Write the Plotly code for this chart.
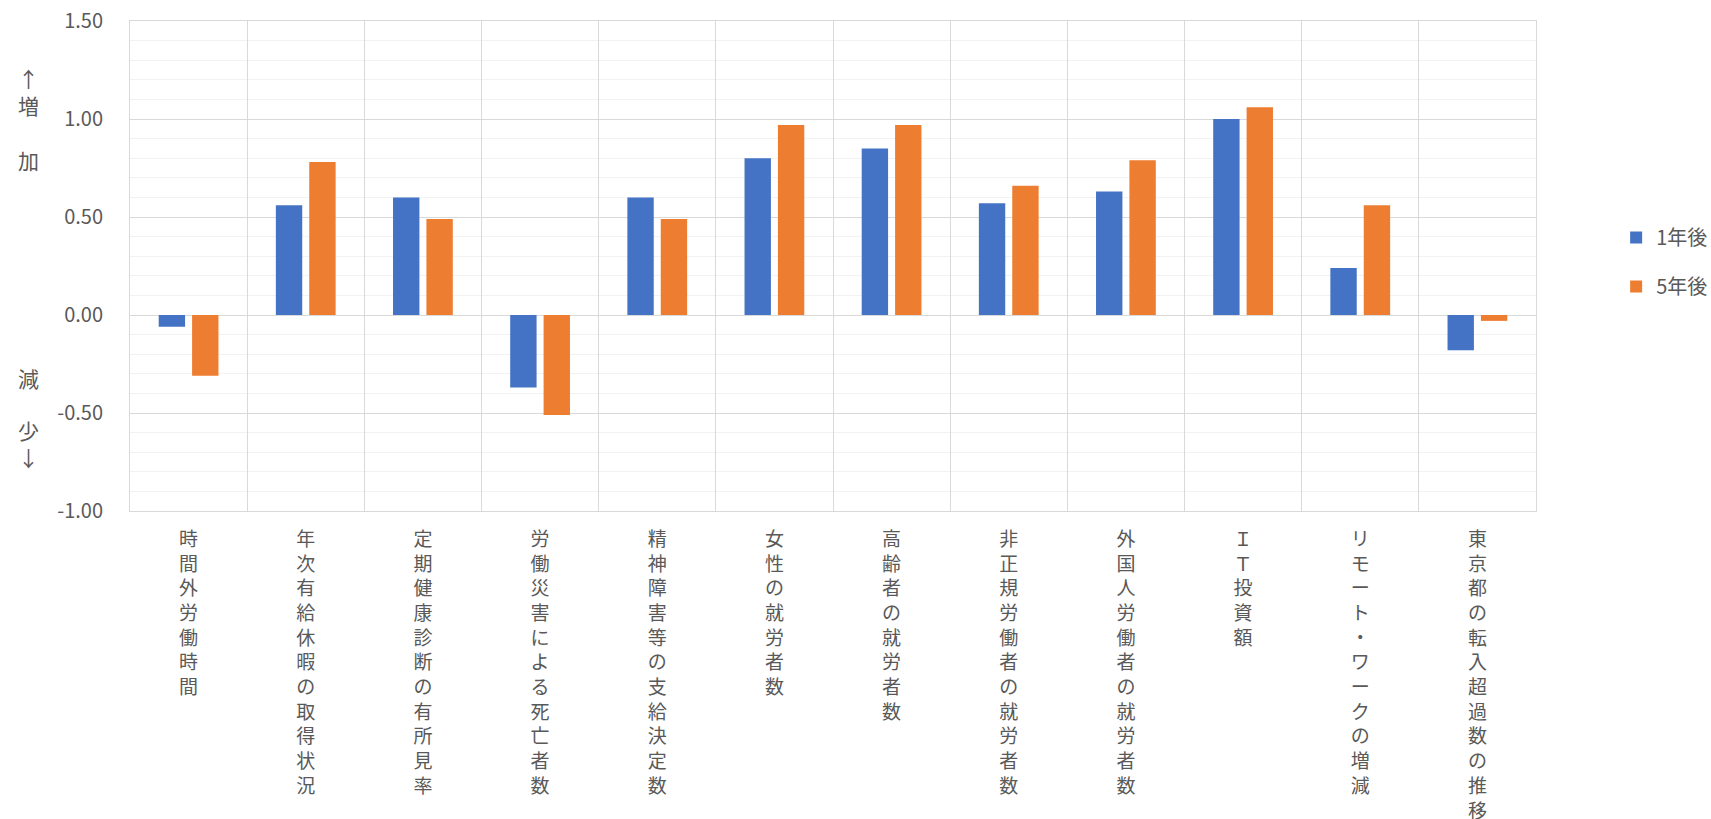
import plotly.graph_objects as go

categories = [
    "時間外労働時間",
    "年次有給休暇の取得状況",
    "定期健康診断の有所見率",
    "労働災害による死亡者数",
    "精神障害等の支給決定数",
    "女性の就労者数",
    "高齢者の就労者数",
    "非正規労働者の就労者数",
    "外国人労働者の就労者数",
    "ＩＴ投資額",
    "リモート・ワークの増減",
    "東京都の転入超過数の推移",
]
series_names = ["1年後", "5年後"]
values_1y = [-0.06, 0.56, 0.60, -0.37, 0.60, 0.80, 0.85, 0.57, 0.63, 1.00, 0.24, -0.18]
values_5y = [-0.31, 0.78, 0.49, -0.51, 0.49, 0.97, 0.97, 0.66, 0.79, 1.06, 0.56, -0.03]
y_ticks = [-1.0, -0.5, 0.0, 0.5, 1.0, 1.5]
colors = ["#4472C4", "#ED7D31"]

FONT = "Noto Sans CJK JP"
GREY = "#595959"

# vertical (stacked) category labels
tick_text = ["<br>".join(list(c)) for c in categories]

fig = go.Figure()
for name, vals, col in zip(series_names, [values_1y, values_5y], colors):
    fig.add_trace(go.Bar(
        x=categories, y=vals, name=name, legendgroup=name,
        marker=dict(color=col, line=dict(width=0)),
    ))

fig.update_layout(
    width=1711, height=819,
    margin=dict(l=130, r=175, t=21, b=308, autoexpand=False),
    plot_bgcolor="white", paper_bgcolor="white",
    barmode="group", bargap=0.43, bargroupgap=0.21,
    font=dict(family=FONT, size=20, color=GREY),
    legend=dict(
        x=1.057, y=0.508, xanchor="left", yanchor="middle",
        traceorder="grouped", tracegroupgap=20,
        font=dict(family=FONT, size=20, color=GREY),
        itemclick=False,
    ),
    xaxis=dict(
        type="category", tickmode="array", tickvals=categories, ticktext=tick_text,
        tickson="boundaries", showgrid=True, gridcolor="#d9d9d9", gridwidth=1,
        showline=True, mirror=True, linecolor="#d9d9d9", linewidth=1,
        ticks="", tickangle=0, ticklabelstandoff=11, automargin=False,
        tickfont=dict(family=FONT, size=19, color=GREY),
    ),
    yaxis=dict(
        range=[-1.0, 1.5], tickmode="array", tickvals=y_ticks,
        ticktext=[f"{v:.2f}" for v in y_ticks],
        showgrid=True, gridcolor="#d9d9d9", gridwidth=1,
        minor=dict(dtick=0.1, showgrid=True, gridcolor="#f2f2f2", gridwidth=1),
        zeroline=False, automargin=False,
        showline=True, mirror=True, linecolor="#d9d9d9", linewidth=1,
        ticks="", ticklabelstandoff=22,
        tickfont=dict(family=FONT, size=20, color=GREY),
    ),
)

side_labels = [("↑<br>増", 0.857), ("加", 0.716), ("減", 0.271), ("少<br>↓", 0.138)]
for txt, yy in side_labels:
    fig.add_annotation(
        text=txt, xref="paper", yref="paper", x=-0.0725, y=yy,
        xanchor="center", yanchor="middle", showarrow=False,
        font=dict(family=FONT, size=21, color=GREY),
    )

fig.write_html("out.html")
